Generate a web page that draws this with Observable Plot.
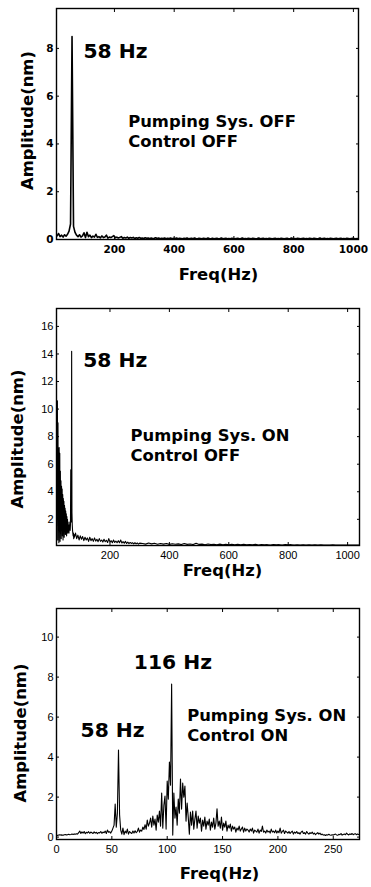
<!DOCTYPE html>
<html><head><meta charset="utf-8">
<script src="https://cdn.jsdelivr.net/npm/d3@7"></script>
<script src="https://cdn.jsdelivr.net/npm/@observablehq/plot@0.6"></script>
<style>
html,body{margin:0;padding:0;background:#fff;}
#c{width:371px;}
#c svg{display:block;}
</style></head><body><div id="c"></div>
<script>
// ---------- Panel 1: Pumping Sys. OFF / Control OFF (5 Hz grid from 8 Hz) ----------
const p1Start = 8, p1Step = 5;
const p1Amp = [
0.15,0.25,0.12,0.18,0.10,0.20,0.14,0.22,0.35,0.65,
8.50,0.55,0.30,0.18,0.12,0.20,0.10,0.15,0.28,0.08,
0.30,0.12,0.18,0.08,0.14,0.10,0.22,0.09,0.12,0.07,
0.15,0.08,0.10,0.18,0.06,0.10,0.08,0.12,0.16,0.07,
0.10,0.06,0.09,0.12,0.05,0.08,0.06,0.10,0.05,0.08,
0.06,0.09,0.04,0.07,0.05,0.08,0.05,0.06,0.04,0.07,
0.05,0.06,0.03,0.06,0.04,0.05,0.07,0.04,0.06,0.03,
0.05,0.04,0.06,0.03,0.05,0.04,0.06,0.03,0.05,0.04,
0.06,0.03,0.05,0.04,0.03,0.05,0.04,0.06,0.03,0.04,
0.05,0.03,0.06,0.04,0.03,0.05,0.04,0.03,0.05,0.04,
0.03,0.06,0.04,0.03,0.05,0.03,0.04,0.05,0.03,0.04,
0.06,0.03,0.04,0.05,0.03,0.04,0.03,0.05,0.04,0.03,
0.04,0.05,0.03,0.04,0.06,0.03,0.04,0.03,0.05,0.04,
0.03,0.05,0.04,0.03,0.04,0.06,0.03,0.04,0.05,0.03,
0.04,0.03,0.05,0.04,0.03,0.04,0.05,0.03,0.04,0.03,
0.05,0.04,0.03,0.04,0.05,0.03,0.04,0.06,0.03,0.04,
0.03,0.05,0.04,0.03,0.04,0.05,0.03,0.04,0.03,0.05,
0.04,0.03,0.05,0.04,0.03,0.04,0.06,0.03,0.04,0.05,
0.03,0.04,0.03,0.05,0.04,0.03,0.04,0.05,0.03,0.04,
0.05,0.03,0.04,0.03,0.05,0.04,0.03,0.04,0.05,0.04,
0.03,0.04
];
const p1XTicks = [200, 400, 600, 800, 1000];
const p1YTicks = [0, 2, 4, 6, 8];
const p1Peaks = [{t: "58 Hz", x: 96, y: 7.87}];
const p1Cond = [{t: "Pumping Sys. OFF\nControl OFF", x: 246, y: 5.28}];

// ---------- Panel 2: Pumping Sys. ON / Control OFF ----------
const p2aStart = 20, p2aStep = 1;
const p2aAmp = [
1.5,8.5,2.0,10.6,0.5,9.0,1.2,6.5,0.3,7.2,
1.8,6.8,0.4,5.5,1.0,4.8,0.6,4.4,1.5,4.2,
0.8,3.8,0.5,3.5,1.2,3.3,0.7,3.0,1.5,2.8,
0.9,2.6,1.3,2.4,0.8,2.2,1.5,2.0,1.0,1.8,
1.2,1.5,1.0,1.6,1.3,1.8,1.2,1.6,5.6,1.8,
2.2,14.2,2.5,1.6,1.2,1.0,0.8,1.0,0.6,0.9,0.7
];
const p2bStart = 84, p2bStep = 4;
const p2bAmp = [
1.0,0.6,0.85,0.5,0.8,0.55,0.75,0.45,0.7,0.5,
0.65,0.4,0.7,0.45,0.6,0.4,0.65,0.42,0.55,0.38,
0.6,0.4,0.5,0.35,0.55,0.38,0.48,0.32,0.6,0.35,
0.45,0.3,0.5,0.32,0.42,0.3,0.45,0.3,0.5,0.28,
0.38,0.26,0.4,0.25,0.35,0.24,0.32,0.25,0.3,0.22,
0.3,0.22,0.28,0.2,0.27
];
const p2cStart = 310, p2cStep = 10;
const p2cAmp = [
0.25,0.2,0.28,0.22,0.26,0.19,0.25,0.2,0.24,0.18,
0.23,0.19,0.22,0.17,0.24,0.18,0.21,0.17,0.26,0.18,
0.2,0.16,0.21,0.17,0.19,0.16,0.2,0.15,0.19,0.16,
0.18,0.15,0.19,0.16,0.18,0.15,0.17,0.15,0.18,0.14,
0.17,0.15,0.16,0.14,0.17,0.15,0.16,0.14,0.17,0.15,
0.16,0.14,0.15,0.13,0.16,0.14,0.15,0.13,0.15,0.14,
0.15,0.13,0.14,0.13,0.15,0.13,0.14,0.13,0.14,0.13,
0.14,0.13,0.14,0.13
];
const p2XTicks = [200, 400, 600, 800, 1000];
const p2YTicks = [2, 4, 6, 8, 10, 12, 14, 16];
const p2Peaks = [{t: "58 Hz", x: 110, y: 13.49}];
const p2Cond = [{t: "Pumping Sys. ON\nControl OFF", x: 269, y: 8.7}];

// ---------- Panel 3: Pumping Sys. ON / Control ON (1 Hz grid from 0) ----------
const p3Start = 0, p3Step = 1;
const p3Amp = [
0.10,0.08,0.10,0.12,0.10,0.11,0.09,0.12,0.13,0.11,
0.12,0.14,0.12,0.13,0.15,0.13,0.16,0.14,0.17,0.15,
0.22,0.30,0.18,0.26,0.20,0.28,0.17,0.24,0.21,0.27,
0.19,0.25,0.22,0.18,0.26,0.20,0.24,0.17,0.23,0.21,
0.28,0.19,0.25,0.22,0.30,0.18,0.35,0.24,0.27,0.20,
0.30,0.45,0.60,1.65,0.50,1.20,4.35,1.10,0.35,0.15,
0.45,0.12,0.30,0.20,0.40,0.15,0.28,0.22,0.18,0.30,
0.20,0.32,0.22,0.28,0.45,0.25,0.35,0.30,0.50,0.38,
0.62,0.40,0.85,0.55,0.70,0.95,0.50,1.05,0.60,0.90,
0.35,1.10,0.75,1.30,0.55,2.20,0.45,1.60,2.05,0.40,
2.80,1.90,3.75,2.60,7.65,0.10,2.20,0.95,1.50,0.60,
1.90,1.20,2.90,1.40,2.70,2.00,2.55,0.80,1.70,1.00,
0.15,1.25,0.60,1.30,0.40,0.90,1.30,0.45,1.05,0.70,
0.95,0.30,0.85,0.55,1.00,0.40,0.80,0.60,0.90,0.35,
0.75,0.50,0.95,0.40,0.70,1.42,0.55,0.80,0.45,1.00,
0.35,0.70,0.50,0.80,0.30,0.60,0.45,0.65,0.30,0.55,
0.40,0.50,0.25,0.45,0.35,0.55,0.30,0.40,0.50,0.25,
0.45,0.30,0.40,0.35,0.25,0.40,0.30,0.45,0.20,0.35,
0.30,0.25,0.40,0.20,0.35,0.28,0.55,0.25,0.30,0.20,
0.35,0.25,0.30,0.20,0.40,0.25,0.30,0.22,0.35,0.20,
0.30,0.22,0.45,0.20,0.28,0.35,0.18,0.30,0.25,0.20,
0.28,0.18,0.25,0.30,0.15,0.25,0.20,0.28,0.18,0.22,
0.15,0.25,0.30,0.18,0.22,0.15,0.28,0.20,0.15,0.22,
0.18,0.25,0.15,0.20,0.12,0.18,0.22,0.15,0.20,0.12,
0.15,0.10,0.12,0.08,0.12,0.10,0.14,0.11,0.09,0.12,
0.10,0.13,0.15,0.11,0.09,0.14,0.12,0.18,0.10,0.13,
0.15,0.12,0.20,0.14,0.11,0.16,0.13,0.18,0.12,0.15,
0.17,0.12,0.15,0.13
];
const p3XTicks = [0, 50, 100, 150, 200, 250];
const p3YTicks = [0, 2, 4, 6, 8, 10];
const p3Peaks = [{t: "116 Hz", x: 69.8, y: 8.75}, {t: "58 Hz", x: 21.7, y: 5.33}];
const p3Cond = [{t: "Pumping Sys. ON\nControl ON", x: 118, y: 6.5}];

const xTitle = "Freq(Hz)";
const yTitle = "Amplitude(nm)";

// ---------- build rows ----------
const grid = (start, step, amp) => amp.map((a, i) => ({f: start + i * step, a}));
const p1Data = grid(p1Start, p1Step, p1Amp);
const p2Data = [...grid(p2aStart, p2aStep, p2aAmp), ...grid(p2bStart, p2bStep, p2bAmp), ...grid(p2cStart, p2cStep, p2cAmp)];
const p3Data = grid(p3Start, p3Step, p3Amp);

const BOLD = "DejaVu Sans, Verdana, sans-serif";
const plain = d => String(d);

function panel(o) {
  const T = {fontFamily: o.tickFamily, fontSize: o.tickFontSize, fontWeight: o.tickWeight, fill: "black"};
  return Plot.plot({
    width: 371, height: o.height,
    marginLeft: 56, marginRight: o.mr, marginTop: o.mt, marginBottom: o.mb,
    x: {domain: o.xDomain, label: null},
    y: {domain: o.yDomain, label: null},
    style: {background: "white", color: "black", overflow: "visible"},
    marks: [
      Plot.line(o.data, {x: "f", y: "a", stroke: "black", strokeWidth: o.lw, clip: true}),
      Plot.frame({stroke: "black", strokeWidth: 1.4}),
      Plot.axisX(o.xTicks, {anchor: "bottom", tickSize: -3, tickPadding: 9, tickFormat: plain, label: null, ...T}),
      Plot.axisX(o.xTicks, {anchor: "top", tickSize: -3, tickFormat: () => "", label: null}),
      Plot.axisY(o.yTicks, {anchor: "left", tickSize: -3, tickPadding: 6, tickFormat: plain, label: null, ...T}),
      Plot.axisY(o.yTicks, {anchor: "right", tickSize: -3, tickFormat: () => "", label: null}),
      Plot.text(o.peaks, {x: "x", y: "y", text: "t", textAnchor: "start", lineAnchor: "middle",
        fontFamily: BOLD, fontWeight: "bold", fontSize: 20.3, fill: "black"}),
      Plot.text(o.cond, {x: "x", y: "y", text: "t", textAnchor: "start", lineAnchor: "top", lineHeight: 1.2,
        fontFamily: BOLD, fontWeight: "bold", fontSize: 16.4, fill: "black"}),
      Plot.text([yTitle], {frameAnchor: "left", rotate: -90, dx: o.ytx, dy: o.yty, textAnchor: "middle", lineAnchor: "middle",
        fontFamily: BOLD, fontWeight: "bold", fontSize: 16.4, fill: "black"}),
      Plot.text([xTitle], {frameAnchor: "bottom", dx: o.xtx, dy: o.xty, textAnchor: "middle", lineAnchor: "middle",
        fontFamily: BOLD, fontWeight: "bold", fontSize: 16.4, fill: "black"})
    ]
  });
}

const c = document.getElementById("c");
c.append(panel({data: p1Data, height: 290, mt: 8, mb: 51, mr: 13, xDomain: [6, 1017], yDomain: [0, 9.67],
  xTicks: p1XTicks, yTicks: p1YTicks, lw: 1.6, peaks: p1Peaks, cond: p1Cond,
  tickFamily: BOLD, tickFontSize: 10.5, tickWeight: "bold", ytx: -28.5, yty: -3.5, xtx: 11, xty: 35}));
c.append(panel({data: p2Data, height: 300, mt: 18, mb: 45, mr: 12, xDomain: [20, 1040], yDomain: [0.1, 17.3],
  xTicks: p2XTicks, yTicks: p2YTicks, lw: 1.1, peaks: p2Peaks, cond: p2Cond,
  tickFamily: "Liberation Sans, Arial, sans-serif", tickFontSize: 11, tickWeight: "normal", ytx: -38.5, yty: 12, xtx: 14.5, xty: 25}));
c.append(panel({data: p3Data, height: 297, mt: 18, mb: 48, mr: 12, xDomain: [0, 273.7], yDomain: [-0.12, 11.43],
  xTicks: p3XTicks, yTicks: p3YTicks, lw: 1.1, peaks: p3Peaks, cond: p3Cond,
  tickFamily: "Liberation Sans, Arial, sans-serif", tickFontSize: 11, tickWeight: "normal", ytx: -35.3, yty: 9, xtx: 11.5, xty: 34}));
</script>
</body></html>
